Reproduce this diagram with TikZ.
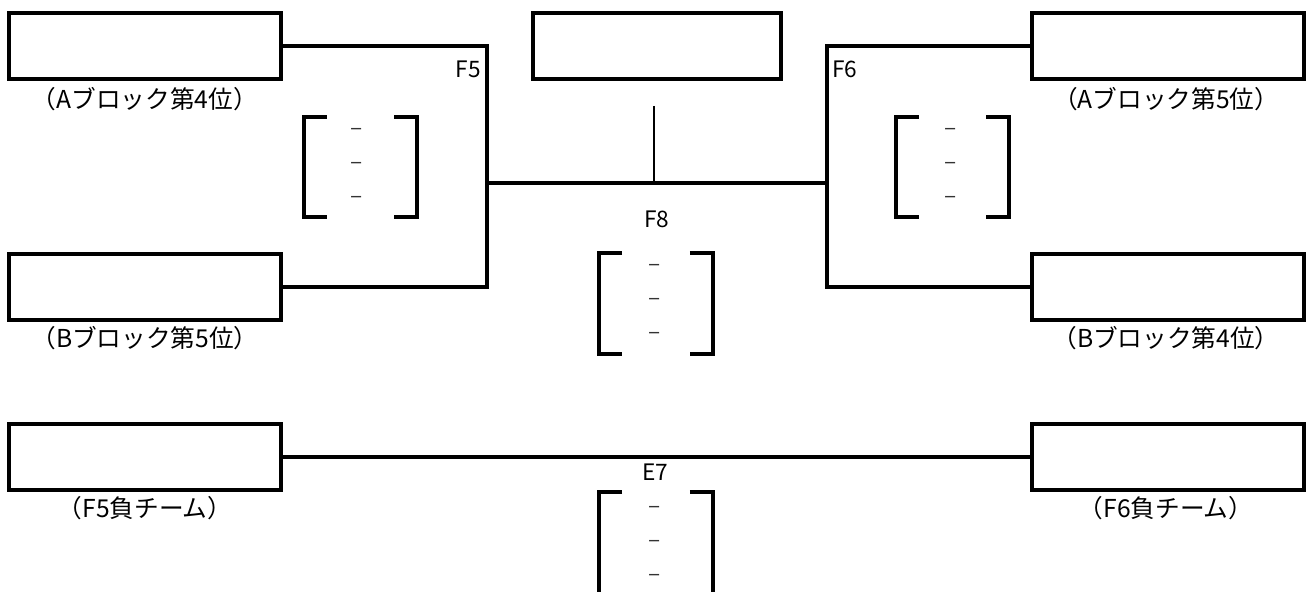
\documentclass[tikz,border=0pt]{standalone}
\usepackage{fontspec}
\setmainfont{Noto Sans CJK JP}
\begin{document}
\begin{tikzpicture}[x=0.75pt,y=-0.75pt,
  team/.style={draw,line width=3pt,minimum width=204pt,minimum height=49pt,inner sep=0pt},
  lab/.style={font=\fontsize{18.5pt}{20pt}\selectfont,inner sep=0pt},
  game/.style={font=\fontsize{17pt}{19pt}\selectfont,inner sep=0pt},
  dsh/.style={font=\fontsize{17pt}{19pt}\selectfont,inner sep=0pt,text=black!80},
  brk/.style={draw=none,inner sep=0pt,minimum width=84.75pt,minimum height=75pt},
  conn/.style={line width=2.4pt},
  bline/.style={line width=2.8pt}]
\useasboundingbox (0,0) rectangle (1310,592);
\clip (0,0) rectangle (1310,592);
% team boxes
\node[team] (A4) at (144.5,46) {};
\node[team,minimum width=186pt] (C) at (656.5,46) {};
\node[team] (A5) at (1168,46) {};
\node[team] (B5) at (144.5,287) {};
\node[team] (B4) at (1168,287) {};
\node[team] (L5) at (144.5,457) {};
\node[team] (L6) at (1168,457) {};
% labels under boxes
\node[lab] (tA4) at (145,99) {（Aブロック第4位）};
\node[lab] (tA5) at (1166,99) {（Aブロック第5位）};
\node[lab] (tB5) at (145,338) {（Bブロック第5位）};
\node[lab] (tB4) at (1166,338) {（Bブロック第4位）};
\node[lab] (tL5) at (145,508) {（F5負チーム）};
\node[lab] (tL6) at (1166,508) {（F6負チーム）};
% junctions
\coordinate (j5) at (487,183);
\coordinate (j6) at (827,183);
\coordinate (c8) at (654,106);
% connectors
\draw[conn] (A4.east) -| (j5) |- (B5.east);
\draw[conn] (A5.west) -| (j6) |- (B4.west);
\draw[conn] (j5) -- (j6);
\draw[line width=1.2pt] (c8) -- (c8 |- j5);
\draw[conn] (L5.east) -- (L6.west);
% game labels
\node[game,anchor=east] (g5) at (481,69) {F5};
\node[game,anchor=west] (g6) at (832,69) {F6};
\node[game] (g8) at (657,219) {F8};
\node[game] (g7) at (655,472) {E7};
% brackets
\node[brk] (b5) at (360.5,167) {};
\node[brk] (b6) at (952.5,167) {};
\node[brk] (b8) at (656,303.5) {};
\node[brk,minimum height=90pt] (b7) at (656,552) {};
\foreach \b in {b5,b6,b8,b7}{
  \draw[bline] (\b.north west) ++(23,0) -- (\b.north west) -- (\b.south west) -- ++(23,0);
  \draw[bline] (\b.north east) ++(-23,0) -- (\b.north east) -- (\b.south east) -- ++(-23,0);
}
% dashes
\foreach \b/\x/\y in {b5/357/132,b6/951/132,b8/655/268}{
  \node[dsh] (\b d1) at (\x,\y) {–};
  \node[dsh] (\b d2) at (\x,\y+34) {–};
  \node[dsh] (\b d3) at (\x,\y+68) {–};
}
\node[dsh] (b7d1) at (655,510) {–};
\node[dsh] (b7d2) at (655,544) {–};
\node[dsh] (b7d3) at (655,578) {–};
\end{tikzpicture}
\end{document}
